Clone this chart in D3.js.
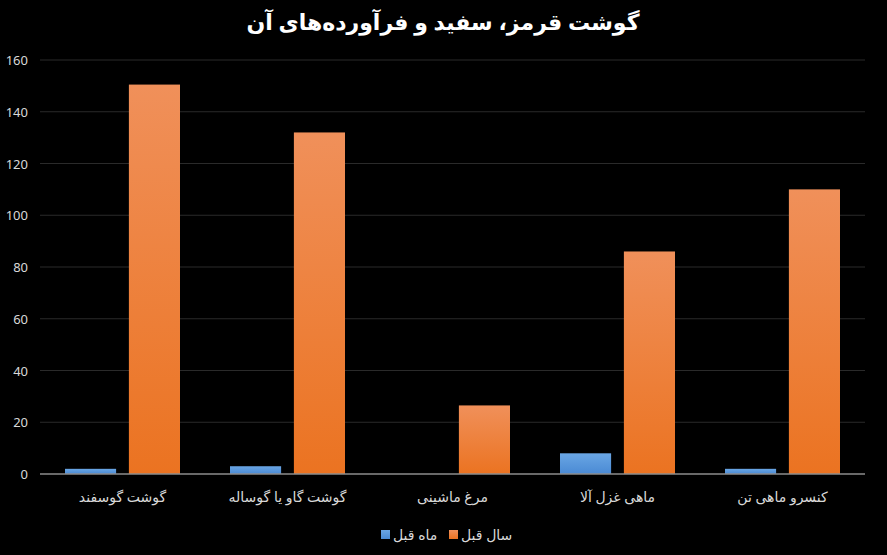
<!DOCTYPE html>
<html><head><meta charset="utf-8">
<script src="https://cdn.jsdelivr.net/npm/d3@7"></script>
<style>body{margin:0;background:#000}svg{display:block}</style>
</head><body>
<svg id="chart" width="887" height="555"></svg>
<script>
const categories = ["گوشت گوسفند", "گوشت گاو یا گوساله", "مرغ ماشینی", "ماهی غزل آلا", "کنسرو ماهی تن"];
const seriesNames = ["ماه قبل", "سال قبل"];
const monthValues = [2, 3, 0, 8, 2];
const yearValues = [150.5, 132, 26.5, 86, 110];
const yTicks = [0, 20, 40, 60, 80, 100, 120, 140, 160];

const svg = d3.select("#chart");
const font = "'Noto Sans', 'DejaVu Sans', sans-serif";
const mLeft = 40, mRight = 865, mTop = 60, mBottom = 474;

const defs = svg.append("defs");
const g1 = defs.append("linearGradient").attr("id", "og").attr("x1", 0).attr("y1", 0).attr("x2", 0).attr("y2", 1);
g1.append("stop").attr("offset", "0%").attr("stop-color", "#f0905a");
g1.append("stop").attr("offset", "100%").attr("stop-color", "#eb7321");
const g2 = defs.append("linearGradient").attr("id", "bg").attr("x1", 0).attr("y1", 0).attr("x2", 0).attr("y2", 1);
g2.append("stop").attr("offset", "0%").attr("stop-color", "#6aa6e4");
g2.append("stop").attr("offset", "100%").attr("stop-color", "#4a8ad4");

const y = d3.scaleLinear().domain([0, 160]).range([mBottom, mTop]);
const x = d3.scaleBand().domain(categories).range([mLeft, mRight]);
const inner = d3.scaleBand().domain([0, 1]).range([25, x.bandwidth() - 25]).paddingInner(0.2);

svg.append("text").attr("x", 443).attr("y", 30).attr("text-anchor", "middle")
  .attr("fill", "#fff").attr("font-family", font).attr("font-size", 22).attr("font-weight", "bold")
  .text("گوشت قرمز، سفید و فرآورده‌های آن");

svg.append("g").selectAll("line").data(yTicks.slice(1)).join("line")
  .attr("x1", mLeft).attr("x2", mRight).attr("y1", d => y(d)).attr("y2", d => y(d))
  .attr("stroke", "#2a2a2a").attr("stroke-width", 1);

svg.append("g").selectAll("text").data(yTicks).join("text")
  .attr("x", 28).attr("y", d => y(d) + 5).attr("text-anchor", "end")
  .attr("fill", "#d9d9d9").attr("font-family", font).attr("font-size", 13).text(d => d);

const data = [monthValues, yearValues];
const fills = ["url(#bg)", "url(#og)"];
data.forEach((vals, s) => {
  svg.append("g").selectAll("rect").data(vals).join("rect")
    .attr("x", (d, i) => x(categories[i]) + inner(s))
    .attr("width", inner.bandwidth())
    .attr("y", d => y(d)).attr("height", d => y(0) - y(d))
    .attr("fill", fills[s]);
});

svg.append("line").attr("x1", mLeft).attr("x2", mRight).attr("y1", y(0)).attr("y2", y(0))
  .attr("stroke", "#8c8c8c").attr("stroke-width", 1.5);

svg.append("g").selectAll("text").data(categories).join("text")
  .attr("x", d => x(d) + x.bandwidth() / 2).attr("y", 502).attr("text-anchor", "middle")
  .attr("fill", "#d9d9d9").attr("font-family", font).attr("font-size", 14)
  .text(d => d);

const legX = [381, 449];
seriesNames.forEach((n, i) => {
  svg.append("rect").attr("x", legX[i]).attr("y", 530).attr("width", 9).attr("height", 9).attr("fill", fills[i]);
  svg.append("text").attr("x", legX[i] + 12).attr("y", 540).attr("text-anchor", "start")
    .attr("fill", "#d9d9d9").attr("font-family", font).attr("font-size", 14).text(n);
});
</script>
</body></html>
